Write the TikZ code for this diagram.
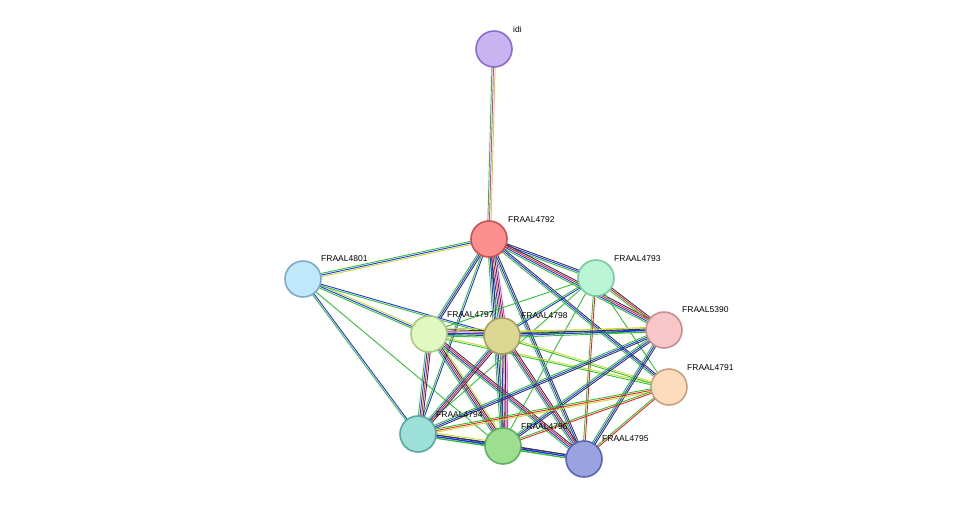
\documentclass[tikz,border=0pt]{standalone}
\usepackage{fontspec}
\setmainfont{Liberation Sans}
\usetikzlibrary{calc,backgrounds}
\definecolor{cgreen}{HTML}{33C033}
\definecolor{cblue}{HTML}{2233EE}
\definecolor{cred}{HTML}{EE2222}
\definecolor{cmag}{HTML}{DD33DD}
\definecolor{cyel}{HTML}{C8D832}
\definecolor{cdark}{HTML}{333355}
\tikzset{
  prot/.style={circle, draw, line width=1.6pt, minimum size=36pt, inner sep=0pt},
  lbl/.style={font=\fontsize{8.5}{10}\selectfont, anchor=south west, inner sep=1pt}
}
\newcommand\lnk[3]{%
  \foreach \c [count=\i] in {#3}
    \draw[\c, line width=0.9pt] ($(#1)!{(\i-2)*1.6pt}!90:(#2)$) -- ($(#2)!{(\i-2)*1.6pt}!-90:(#1)$);%
}
\begin{document}
\begin{tikzpicture}[x=1pt, y=-1pt]
	\useasboundingbox (0, 0) rectangle (976, 504);
	
	\node[prot, fill={rgb,255:red,201;green,179;blue,240}, draw={rgb,255:red,138;green,108;blue,204}] (idi) at (494, 49) {};
	\node[prot, fill={rgb,255:red,254;green,143;blue,143}, draw={rgb,255:red,200;green,80;blue,80}] (n4792) at (489, 239) {};
	\node[prot, fill={rgb,255:red,192;green,232;blue,251}, draw={rgb,255:red,122;green,170;blue,200}] (n4801) at (303, 279) {};
	\node[prot, fill={rgb,255:red,185;green,245;blue,214}, draw={rgb,255:red,124;green,200;blue,160}] (n4793) at (596, 278) {};
	\node[prot, fill={rgb,255:red,224;green,249;blue,192}, draw={rgb,255:red,168;green,200;blue,136}] (n4797) at (429, 334) {};
	\node[prot, fill={rgb,255:red,220;green,214;blue,147}, draw={rgb,255:red,168;green,160;blue,96}] (n4798) at (502, 336) {};
	\node[prot, fill={rgb,255:red,248;green,198;blue,198}, draw={rgb,255:red,200;green,144;blue,144}] (n5390) at (664, 330) {};
	\node[prot, fill={rgb,255:red,252;green,220;blue,189}, draw={rgb,255:red,200;green,160;blue,128}] (n4791) at (669, 387) {};
	\node[prot, fill={rgb,255:red,157;green,224;blue,216}, draw={rgb,255:red,90;green,168;blue,160}] (n4794) at (418, 434) {};
	\node[prot, fill={rgb,255:red,157;green,223;blue,145}, draw={rgb,255:red,96;green,176;blue,96}] (n4796) at (503, 446) {};
	\node[prot, fill={rgb,255:red,154;green,163;blue,224}, draw={rgb,255:red,90;green,102;blue,176}] (n4795) at (584, 459) {};
	
	% labels
	\node[lbl] at (512, 34) {idi};
	\node[lbl] at (507, 224) {FRAAL4792};
	\node[lbl] at (320, 263) {FRAAL4801};
	\node[lbl] at (613, 263) {FRAAL4793};
	\node[lbl] at (446, 319) {FRAAL4797};
	\node[lbl] at (520, 320) {FRAAL4798};
	\node[lbl] at (681, 314) {FRAAL5390};
	\node[lbl] at (686, 372) {FRAAL4791};
	\node[lbl] at (435, 419) {FRAAL4794};
	\node[lbl] at (520, 431) {FRAAL4796};
	\node[lbl] at (601, 443) {FRAAL4795};
	
	\begin{pgfonlayer}{background}
	\lnk{idi}{n4792}{cgreen, cmag, cyel}
	\lnk{n4792}{n4801}{cgreen, cblue, cyel}
	\lnk{n4792}{n4793}{cgreen, cblue, cdark}
	\lnk{n4792}{n4797}{cgreen, cblue, cdark}
	\lnk{n4792}{n4798}{cgreen, cblue, cred, cdark, cmag}
	\lnk{n4792}{n5390}{cgreen, cblue, cred, cdark}
	\lnk{n4792}{n4791}{cgreen, cblue, cdark}
	\lnk{n4792}{n4794}{cgreen, cblue}
	\lnk{n4792}{n4796}{cgreen, cblue, cdark}
	\lnk{n4792}{n4795}{cgreen, cblue, cdark}
	\lnk{n4801}{n4797}{cgreen, cblue, cyel}
	\lnk{n4801}{n4798}{cgreen, cblue}
	\lnk{n4801}{n4794}{cgreen, cblue}
	\lnk{n4801}{n4796}{cgreen}
	\lnk{n4793}{n4797}{cgreen}
	\lnk{n4793}{n4798}{cgreen, cblue}
	\lnk{n4793}{n5390}{cgreen, cred, cdark}
	\lnk{n4793}{n4794}{cgreen}
	\lnk{n4793}{n4796}{cgreen}
	\lnk{n4793}{n4795}{cgreen, cred}
	\lnk{n4793}{n4791}{cgreen}
	\lnk{n4797}{n4798}{cgreen, cblue, cred, cmag, cdark, cyel}
	\lnk{n4797}{n5390}{cgreen, cblue, cyel}
	\lnk{n4797}{n4791}{cgreen, cyel}
	\lnk{n4797}{n4794}{cgreen, cblue, cred, cdark}
	\lnk{n4797}{n4796}{cgreen, cblue, cred, cdark, cyel}
	\lnk{n4797}{n4795}{cgreen, cblue, cred, cdark}
	\lnk{n4798}{n5390}{cgreen, cblue, cdark, cyel}
	\lnk{n4798}{n4791}{cgreen, cyel}
	\lnk{n4798}{n4794}{cgreen, cblue, cred, cdark}
	\lnk{n4798}{n4796}{cgreen, cblue, cred, cdark, cmag}
	\lnk{n4798}{n4795}{cgreen, cblue, cred, cdark}
	\lnk{n5390}{n4794}{cgreen, cblue, cdark}
	\lnk{n5390}{n4796}{cgreen, cblue, cdark}
	\lnk{n5390}{n4795}{cgreen, cblue, cdark}
	\lnk{n4791}{n4794}{cgreen, cred, cyel}
	\lnk{n4791}{n4796}{cgreen, cred}
	\lnk{n4791}{n4795}{cgreen, cred}
	\lnk{n4794}{n4796}{cgreen, cblue, cdark, cyel}
	\lnk{n4794}{n4795}{cgreen, cblue, cdark}
	\lnk{n4796}{n4795}{cgreen, cblue, cdark}
	\end{pgfonlayer}
\end{tikzpicture}
\end{document}
